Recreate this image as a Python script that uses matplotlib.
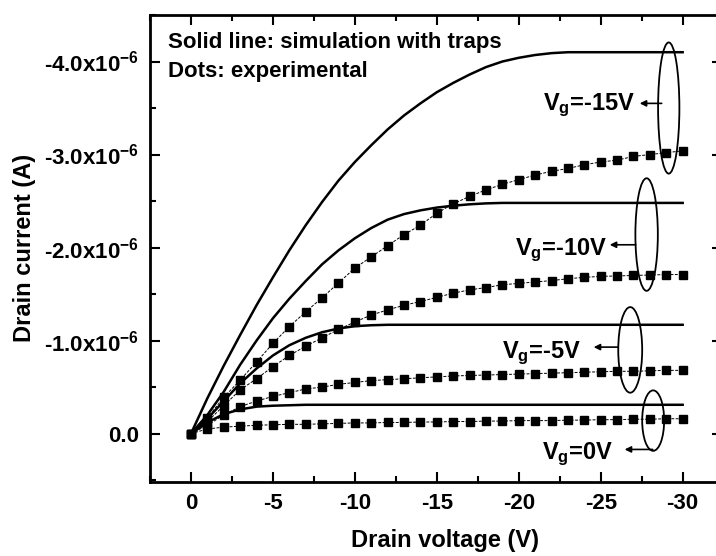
import matplotlib
matplotlib.use('Agg')
import matplotlib.pyplot as plt
from matplotlib.patches import Ellipse
from matplotlib.ticker import MultipleLocator, FixedLocator, FixedFormatter

plt.rcParams['font.family'] = ['Liberation Sans', 'DejaVu Sans']
plt.rcParams['font.weight'] = 'bold'
plt.rcParams['mathtext.fontset'] = 'custom'
plt.rcParams['mathtext.rm'] = 'Liberation Sans:bold'
plt.rcParams['mathtext.bf'] = 'Liberation Sans:bold'
plt.rcParams['mathtext.it'] = 'Liberation Sans:bold'
plt.rcParams['mathtext.default'] = 'bf'

# drain voltage (V)
vd = [0, -1, -2, -3, -4, -5, -6, -7, -8, -9, -10, -11, -12, -13, -14, -15,
      -16, -17, -18, -19, -20, -21, -22, -23, -24, -25, -26, -27, -28, -29, -30]

# experimental drain current, units of 1e-6 A
exp_vg0 = [0, -0.05, -0.07, -0.08, -0.09, -0.095, -0.10, -0.10, -0.105, -0.11, -0.115,
           -0.115, -0.12, -0.12, -0.125, -0.125, -0.13, -0.13, -0.135, -0.135, -0.14,
           -0.14, -0.14, -0.145, -0.145, -0.15, -0.15, -0.155, -0.155, -0.16, -0.16]
exp_vg5 = [0, -0.09, -0.20, -0.29, -0.35, -0.40, -0.44, -0.48, -0.50, -0.53, -0.55,
           -0.57, -0.58, -0.59, -0.60, -0.61, -0.62, -0.625, -0.63, -0.635, -0.64,
           -0.645, -0.65, -0.655, -0.66, -0.665, -0.67, -0.67, -0.675, -0.68, -0.68]
exp_vg10 = [0, -0.13, -0.30, -0.47, -0.59, -0.72, -0.84, -0.94, -1.03, -1.12, -1.20,
            -1.275, -1.33, -1.38, -1.42, -1.465, -1.51, -1.545, -1.57, -1.60, -1.615,
            -1.63, -1.645, -1.665, -1.68, -1.69, -1.695, -1.70, -1.705, -1.71, -1.71]
exp_vg15 = [0, -0.17, -0.39, -0.575, -0.77, -0.97, -1.15, -1.31, -1.46, -1.62, -1.78,
            -1.90, -2.02, -2.14, -2.24, -2.37, -2.47, -2.55, -2.62, -2.68, -2.73,
            -2.78, -2.82, -2.85, -2.89, -2.92, -2.94, -2.98, -3.00, -3.02, -3.04]

# simulation with traps
sim_vg0 = [0, -0.12, -0.21, -0.26, -0.29, -0.30, -0.305, -0.31, -0.31, -0.31, -0.31,
           -0.31, -0.31, -0.31, -0.31, -0.31, -0.31, -0.31, -0.31, -0.31, -0.31,
           -0.31, -0.31, -0.31, -0.31, -0.31, -0.31, -0.31, -0.31, -0.31, -0.31]
sim_vg5 = [0, -0.16, -0.35, -0.54, -0.70, -0.84, -0.95, -1.03, -1.09, -1.13, -1.155,
           -1.165, -1.17, -1.17, -1.17, -1.17, -1.17, -1.17, -1.17, -1.17, -1.17,
           -1.17, -1.17, -1.17, -1.17, -1.17, -1.17, -1.17, -1.17, -1.17, -1.17]
sim_vg10 = [0, -0.20, -0.45, -0.74, -1.00, -1.24, -1.45, -1.64, -1.82, -1.97, -2.10,
            -2.21, -2.30, -2.36, -2.40, -2.43, -2.45, -2.465, -2.475, -2.48, -2.48,
            -2.48, -2.48, -2.48, -2.48, -2.48, -2.48, -2.48, -2.48, -2.48, -2.48]
sim_vg15 = [0, -0.38, -0.73, -1.06, -1.38, -1.68, -1.97, -2.24, -2.49, -2.72, -2.92,
            -3.10, -3.27, -3.42, -3.55, -3.67, -3.77, -3.86, -3.94, -4.00, -4.04,
            -4.07, -4.09, -4.10, -4.10, -4.10, -4.10, -4.10, -4.10, -4.10, -4.10]

yticks = [0, -1, -2, -3, -4]
ytick_labels = ['0.0', '-1.0x10$^{-6}$', '-2.0x10$^{-6}$', '-3.0x10$^{-6}$', '-4.0x10$^{-6}$']
xticks = [0, -5, -10, -15, -20, -25, -30]
xtick_labels = ['0', '-5', '-10', '-15', '-20', '-25', '-30']

fig = plt.figure(figsize=(7.16, 5.56), dpi=100)
ax = fig.add_axes([150/716, (556-482)/556, (722-150)/716, (482-15)/556])

for s in [sim_vg0, sim_vg5, sim_vg10, sim_vg15]:
    ax.plot(vd, s, color='black', lw=1.8, zorder=3)
for e in [exp_vg0, exp_vg5, exp_vg10, exp_vg15]:
    ax.plot(vd, e, color='black', lw=0.7, ls=(0, (3, 1.5)), marker='s', ms=5.5, zorder=4)

ax.set_xlim(2.5, -32.4)
ax.set_ylim(0.52, -4.5)
ax.xaxis.set_major_locator(FixedLocator(xticks))
ax.xaxis.set_major_formatter(FixedFormatter(xtick_labels))
ax.xaxis.set_minor_locator(MultipleLocator(2.5))
ax.yaxis.set_major_locator(FixedLocator(yticks))
ax.yaxis.set_major_formatter(FixedFormatter(ytick_labels))
ax.yaxis.set_minor_locator(MultipleLocator(0.5))
ax.tick_params(which='both', direction='in', top=True, right=True, width=1.5)
ax.tick_params(which='major', length=7, labelsize=16, pad=8)
ax.tick_params(which='minor', length=4)
for sp in ax.spines.values():
    sp.set_linewidth(2)

# group annotations: ellipse, arrow, label
ellipses = [(-29.15, -3.50, 1.3, 1.41), (-27.8, -2.14, 1.37, 1.21),
            (-26.8, -0.90, 1.46, 0.92), (-28.2, -0.14, 1.34, 0.65)]
for cx, cy, w, h in ellipses:
    ax.add_patch(Ellipse((cx, cy), w, h, fill=False, ec='black', lw=1.3, zorder=5))

arrows = [((-28.72, -3.55), (-27.38, -3.55)), ((-27.13, -2.03), (-25.55, -2.03)),
          ((-26.04, -0.93), (-24.57, -0.93)), ((-28.17, 0.17), (-26.46, 0.17))]
for tail, tip in arrows:
    ax.annotate('', xy=tip, xytext=tail,
                arrowprops=dict(arrowstyle='-|>', lw=1.2, color='black',
                                mutation_scale=9, shrinkA=0, shrinkB=0))

labels = [('V$_g$=-15V', -27.13, -3.48), ('V$_g$=-10V', -25.37, -1.92),
          ('V$_g$=-5V', -23.78, -0.81), ('V$_g$=0V', -25.79, 0.27)]
for txt, x, y in labels:
    ax.text(x, y, txt, ha='right', va='baseline', fontsize=17, fontweight='bold')

ax.text(0.032, 0.929, 'Solid line: simulation with traps', transform=ax.transAxes,
        fontsize=16, fontweight='bold', va='baseline')
ax.text(0.032, 0.867, 'Dots: experimental', transform=ax.transAxes,
        fontsize=16, fontweight='bold', va='baseline')

fig.text(445/716, 1 - 541/556, 'Drain voltage (V)', ha='center', va='center',
         fontsize=17, fontweight='bold')
fig.text(25/716, 1 - 248/556, 'Drain current (A)', ha='center', va='center',
         rotation=90, fontsize=17, fontweight='bold')

fig.savefig('out.png', dpi=100)
